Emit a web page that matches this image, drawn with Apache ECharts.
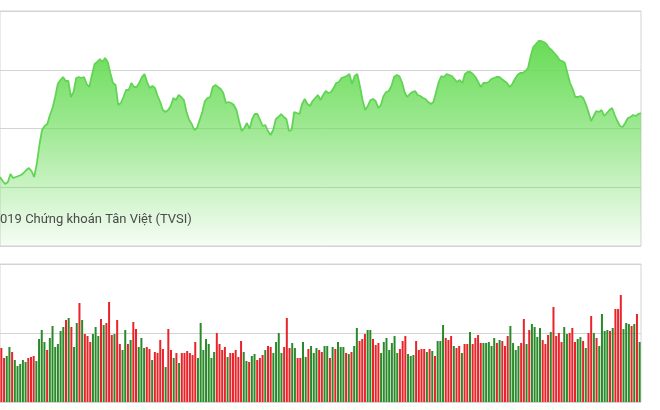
<!DOCTYPE html>
<html>
<head>
<meta charset="utf-8">
<script src="https://cdn.jsdelivr.net/npm/echarts@6/dist/echarts.min.js"></script>
<style>
html,body{margin:0;padding:0;background:#fff;}
#c{width:660px;height:410px;}
</style>
</head>
<body>
<div id="c"></div>
<script>
// Price line (one value per trading day)
const priceValues = [
69,65,62,64,72,68,69,70,71,73,76,78,75,69,82,
101,116,120,122,131,138,149,162,166,169,165,165,149,154,168,
169,168,169,162,159,171,182,184,187,184,188,184,173,163,161,
141,143,149,156,156,163,159,159,163,169,172,164,158,160,158,
150,144,136,134,136,140,148,146,151,149,146,134,126,122,116,
118,126,134,145,148,149,159,161,159,157,153,143,144,143,141,
136,125,115,118,123,117,127,132,132,126,120,121,115,111,116,
127,129,132,129,127,115,116,134,133,132,142,147,142,140,145,
148,151,146,151,155,153,154,158,163,164,168,169,170,172,162,
170,172,160,146,136,140,146,147,145,138,141,150,154,155,160,
169,171,170,164,154,149,152,154,155,151,150,148,147,144,142,
144,154,164,170,169,172,171,170,167,164,166,163,172,174,174,
172,169,164,159,163,163,164,167,168,169,169,167,165,163,159,
162,167,171,173,173,175,178,190,199,202,205,205,204,202,198,
196,193,190,186,185,183,173,163,157,149,149,150,148,142,134,
125,130,135,134,136,130,133,136,138,131,125,120,119,123,128,
129,131,130,132,133
];
const priceDays = priceValues.map((_, i) => i + 1);

// Volume bars
const volumes = [
54,44,46,55,50,42,36,38,42,40,44,45,46,41,63,72,60,52,64,76,55,58,71,75,82,84,75,55,79,99,82,68,66,60,68,75,66,83,77,79,100,
67,68,82,58,52,72,58,62,80,73,55,64,54,55,53,42,50,49,62,53,35,73,52,44,49,39,49,49,51,49,47,60,44,79,52,63,58,44,50,69,
58,52,55,45,49,49,52,45,61,50,41,40,46,48,42,44,47,52,56,55,49,60,69,49,55,84,54,59,54,44,44,60,45,53,56,49,54,52,50,56,
56,44,55,53,60,55,55,49,48,50,56,74,61,63,68,72,72,63,57,59,49,60,64,52,59,66,49,53,61,66,48,46,47,61,52,53,53,50,53,51,
46,61,61,77,64,62,66,56,54,56,49,58,58,70,58,64,67,59,59,59,60,56,64,59,62,61,56,66,76,59,52,56,59,83,58,72,78,75,65,74,
62,58,67,70,95,66,69,60,75,68,69,74,60,63,65,61,54,69,86,69,64,56,88,71,72,71,74,93,93,107,73,79,78,76,78,88,60
];
// 1 = up day (green), 0 = down day (red)
const volumeUp = [
0,0,1,1,0,1,1,1,1,1,0,0,0,1,1,1,1,0,1,1,1,1,1,1,0,1,0,1,1,0,1,0,0,0,1,1,1,0,1,0,0,
0,1,0,0,1,1,0,1,0,0,1,1,1,0,0,1,0,0,0,0,1,0,0,1,0,1,0,0,0,0,0,0,1,1,1,1,1,1,1,0,
0,0,0,1,0,0,0,0,0,1,1,0,1,1,0,0,0,1,0,0,1,1,1,1,0,0,0,1,1,0,0,1,1,0,1,1,1,0,0,1,
1,0,1,0,1,1,1,0,1,0,1,1,0,0,0,1,1,0,0,0,1,1,1,1,1,1,1,0,0,0,1,1,1,0,0,0,0,1,0,1,
0,1,1,1,0,0,0,1,0,0,1,0,0,1,0,0,0,0,1,1,1,1,1,0,1,0,0,0,1,1,1,1,0,0,1,0,1,1,1,1,
0,0,0,1,0,0,0,0,1,1,0,0,0,1,1,0,1,0,0,1,0,1,1,1,1,0,1,0,0,0,1,1,1,0,1,0,1
];
const volumeDays = volumes.map((_, i) => i + 1);

const footerText = '019 Chứng khoán Tân Việt (TVSI)';

const chart = echarts.init(document.getElementById('c'), null, {renderer: 'canvas'});
chart.setOption({
  animation: false,
  backgroundColor: '#ffffff',
  grid: [
    {left: -4, right: 19, top: 11, bottom: 164, show: true, borderColor: '#d4d4d4', borderWidth: 1, backgroundColor: '#fff'},
    {left: -4, right: 19, top: 264, bottom: 8, show: true, borderColor: '#d4d4d4', borderWidth: 1, backgroundColor: '#fff'}
  ],
  xAxis: [
    {type: 'category', gridIndex: 0, data: priceDays, boundaryGap: false, show: false},
    {type: 'category', gridIndex: 1, data: volumeDays, boundaryGap: true, show: false}
  ],
  yAxis: [
    {type: 'value', gridIndex: 0, min: 0, max: 235, interval: 58.75,
     axisLabel: {show: false}, axisLine: {show: false}, axisTick: {show: false},
     splitLine: {show: true, lineStyle: {color: '#d3d3d3', width: 1}}},
    {type: 'value', gridIndex: 1, min: 0, max: 138, interval: 69,
     axisLabel: {show: false}, axisLine: {show: false}, axisTick: {show: false},
     splitLine: {show: true, lineStyle: {color: '#d3d3d3', width: 1}}}
  ],
  series: [
    {
      type: 'line', xAxisIndex: 0, yAxisIndex: 0, data: priceValues,
      showSymbol: false, symbol: 'none', smooth: false,
      lineStyle: {color: '#62d455', width: 1.8},
      areaStyle: {
        opacity: 1,
        color: new echarts.graphic.LinearGradient(0, 0, 0, 1, [
          {offset: 0, color: 'rgba(104,220,86,1)'},
          {offset: 0.45, color: 'rgba(104,220,86,0.62)'},
          {offset: 1, color: 'rgba(104,220,86,0.06)'}
        ])
      }
    },
    {
      type: 'bar', xAxisIndex: 1, yAxisIndex: 1, barWidth: 2,
      data: volumes.map((v, i) => ({
        value: v,
        itemStyle: {color: volumeUp[i] ? '#2a8a2a' : '#e8242a'}
      }))
    }
  ],
  graphic: [
    {type: 'text', left: 0, top: 213, z: 100,
     style: {text: footerText, fill: '#4a4a4a', font: '13px Roboto, "Noto Sans", sans-serif'}}
  ]
});
</script>
</body>
</html>
